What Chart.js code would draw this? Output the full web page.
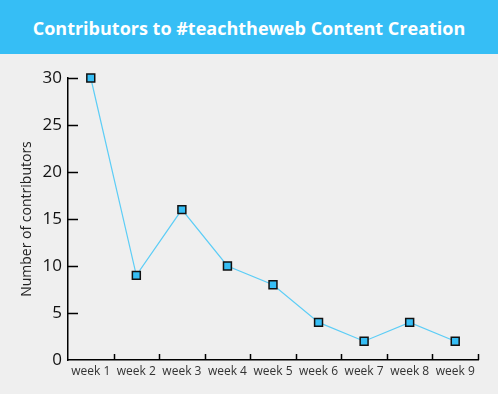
<!DOCTYPE html>
<html>
<head>
<meta charset="utf-8">
<script src="https://cdn.jsdelivr.net/npm/chart.js@4/dist/chart.umd.min.js"></script>
<style>
  html, body { margin: 0; padding: 0; background: #efefef; }
  #head {
    height: 54px; background: #36bef5; color: #fff;
    font: bold 18px "Open Sans", sans-serif;
    text-align: center; line-height: 56px;
  }
  #wrap { width: 498px; height: 340px; position: relative; }
</style>
</head>
<body>
<div id="head">Contributors to #teachtheweb Content Creation</div>
<div id="wrap"><canvas id="lineChart"></canvas></div>
<script>
    /*global Chart*/
    var weeks = ["week 1", "week 2", "week 3", "week 4", "week 5", "week 6", "week 7", "week 8", "week 9"];
    var contributors = [30, 9, 16, 10, 8, 4, 2, 4, 2];
    var yTicks = [0, 5, 10, 15, 20, 25, 30];

    // small tick marks drawn inside the plot, like the original
    var innerTicks = {
        id: 'innerTicks',
        afterDraw: function (chart) {
            var ctx = chart.ctx, x = chart.scales.x, y = chart.scales.y;
            var area = chart.chartArea;
            ctx.save();
            ctx.strokeStyle = '#000';
            ctx.lineWidth = 1.5;
            ctx.beginPath();
            yTicks.forEach(function (v) {
                if (v === 0) return;
                var py = Math.round(y.getPixelForValue(v)) + 0.5;
                ctx.moveTo(area.left, py);
                ctx.lineTo(area.left + 10, py);
            });
            for (var i = 0; i < weeks.length; i++) {
                var px = i < weeks.length - 1
                    ? (x.getPixelForValue(i) + x.getPixelForValue(i + 1)) / 2
                    : area.right;
                px = Math.round(px) + 0.5;
                ctx.moveTo(px, area.bottom);
                ctx.lineTo(px, area.bottom - 6);
            }
            ctx.stroke();
            ctx.restore();
        }
    };

    var lineData = {
        labels: weeks,
        datasets: [{
            label: "Number of contributors",
            data: contributors,
            borderColor: "#5ccdf6",
            borderWidth: 1.2,
            backgroundColor: "#36bef5",
            pointStyle: 'rect',
            pointRadius: 5.6,
            pointHoverRadius: 5.6,
            pointBorderColor: "#111",
            pointBorderWidth: 1.5,
            pointBackgroundColor: "#36bef5",
            tension: 0,
            clip: false,
            fill: false
        }]
    };

    var lineOptions = {
        responsive: true,
        maintainAspectRatio: false,
        animation: false,
        layout: { padding: { top: 24, right: 20, left: 0, bottom: 0 } },
        plugins: { legend: { display: false }, tooltip: { enabled: false } },
        scales: {
            x: {
                offset: true,
                grid: { display: false, offset: true, drawTicks: false, tickLength: 0 },
                border: { display: true, color: '#000', width: 1.5 },
                ticks: { color: '#333', font: { family: 'Open Sans', size: 12 }, padding: 4, maxRotation: 0 },
                afterFit: function (s) { s.height = 34; }
            },
            y: {
                min: 0, max: 30,
                grid: { display: false, drawTicks: false, tickLength: 0 },
                border: { display: true, color: '#000', width: 1.5 },
                afterBuildTicks: function (s) { s.ticks = yTicks.map(function (v) { return { value: v }; }); },
                ticks: { color: '#111', font: { family: 'Open Sans', size: 17 }, padding: 6 },
                title: {
                    display: true, text: 'Number of contributors', color: '#222',
                    font: { family: 'Open Sans', size: 14 }, padding: { top: 19, bottom: 0 }
                },
                afterFit: function (s) { s.width = 68; }
            }
        }
    };

    var ctx = document.getElementById("lineChart").getContext("2d");
    new Chart(ctx, { type: 'line', data: lineData, options: lineOptions, plugins: [innerTicks] });
</script>
</body>
</html>
